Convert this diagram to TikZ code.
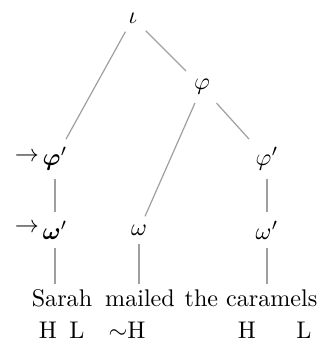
\documentclass[tikz,border=0pt]{standalone}
\usepackage{amsmath,amssymb}
\begin{document}
\begin{tikzpicture}[x=0.415pt,y=-0.415pt,
  edge/.style={draw=gray!75, line width=0.5pt},
  word/.style={anchor=base, inner sep=0pt},
  tone/.style={anchor=base, inner sep=0pt}]
\useasboundingbox (0,0) rectangle (325,343);
% tree nodes
\node (iota) at (133,18) {$\iota$};
\node (phi)  at (202,87) {$\varphi$};
\node (phiL) at (55,159) {$\boldsymbol{\varphi}'$};
\node (phiR) at (267,159) {$\varphi'$};
\node (omL)  at (55,230) {$\boldsymbol{\omega}'$};
\node (om)   at (139,230) {$\omega$};
\node (omR)  at (267,230) {$\omega'$};
\node (arrA) at (27,157) {$\rightarrow$};
\node (arrB) at (27,228) {$\rightarrow$};
% words
\node[word] (sarah)  at (62,306) {Sarah};
\node[word] (mailed) at (140,306) {mailed};
\node[word] (car)    at (251,306) {the caramels};
\coordinate (c1) at (55,284);
\coordinate (c2) at (139,284);
\coordinate (c3) at (267,284);
% tones
\node[tone] (t1) at (48,338) {H};
\node[tone] (t2) at (77,338) {L};
\node[tone] (t3) at (127,338) {$\sim$H};
\node[tone] (t4) at (247,338) {H};
\node[tone] (t5) at (304,338) {L};
% edges
\draw[edge] (iota) -- (phiL);
\draw[edge] (iota) -- (phi);
\draw[edge] (phi) -- (om);
\draw[edge] (phi) -- (phiR);
\draw[edge] (phiL) -- (omL);
\draw[edge] (phiR) -- (omR);
\draw[edge] (omL) -- (c1);
\draw[edge] (om) -- (c2);
\draw[edge] (omR) -- (c3);
\end{tikzpicture}
\end{document}
